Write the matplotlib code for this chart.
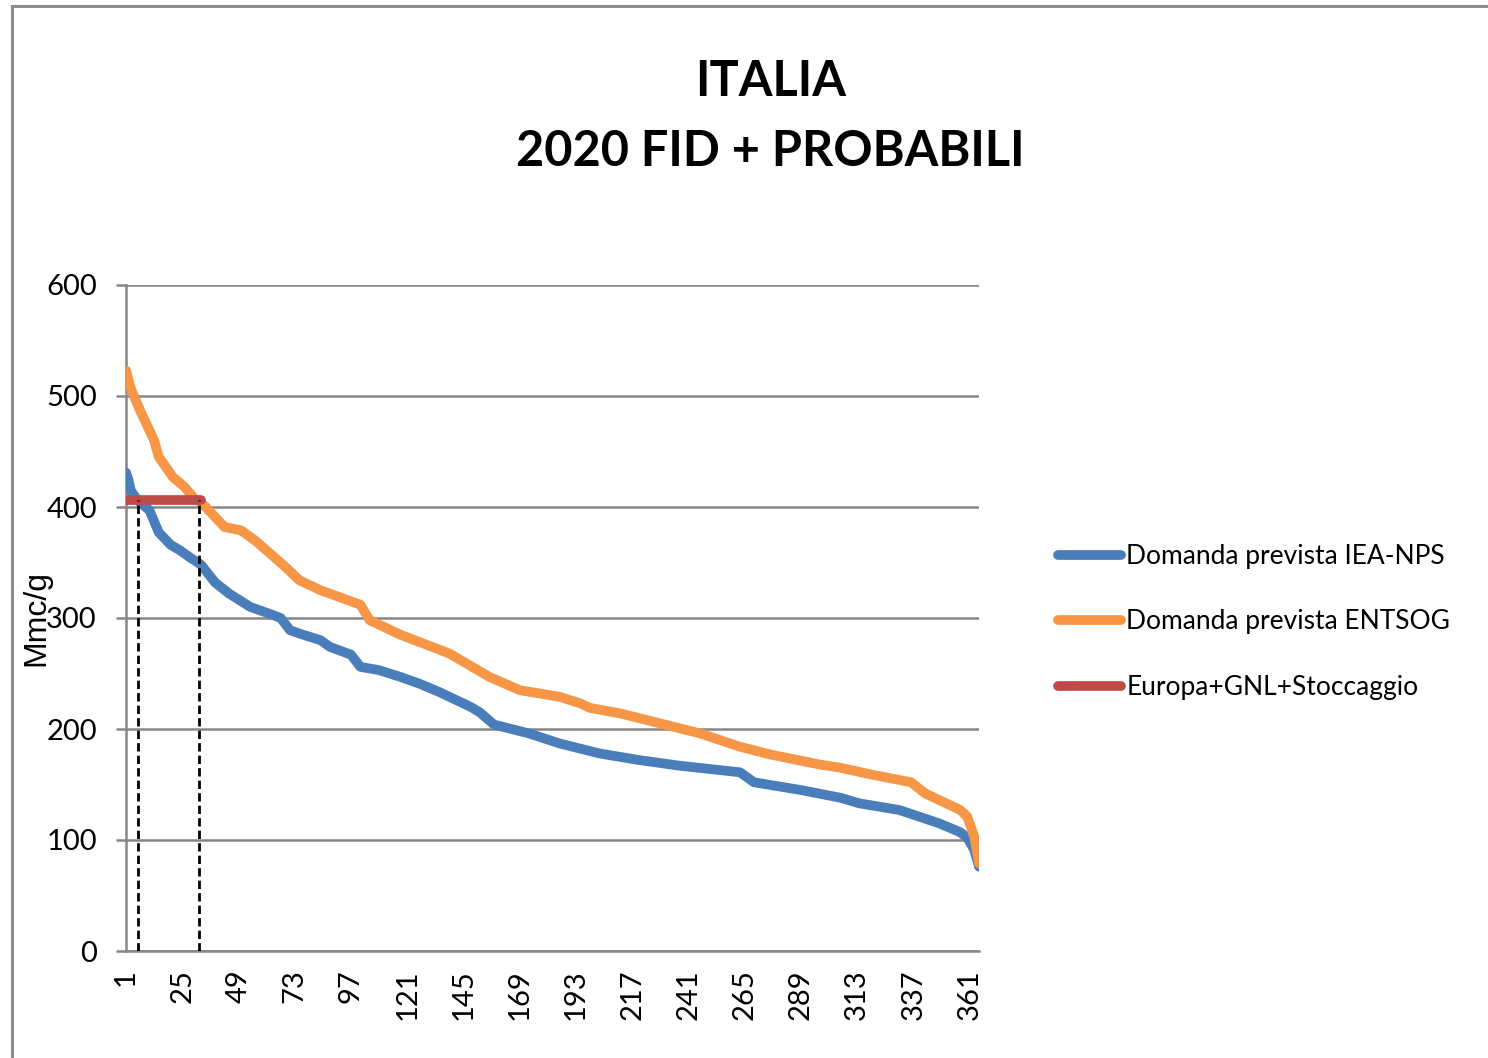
import matplotlib.pyplot as plt
from matplotlib.patches import Rectangle

# giorni (curva di durata) e valori [Mmc/g]
iea_days = [1, 2, 3, 6, 11, 13, 15, 20, 24, 28, 33, 36, 39, 45, 54, 62, 67, 71, 75,
            84, 88, 97, 101, 109, 118, 126, 135, 139, 148, 152, 158, 173, 186, 203,
            220, 237, 263, 269, 289, 306, 314, 331, 348, 357, 360, 363, 365]
iea_vals = [431, 425, 415, 406, 397, 387, 377, 366, 361, 355, 348, 340, 332, 322, 310,
            304, 300, 289, 286, 280, 274, 267, 256, 253, 247, 241, 233, 229, 220, 215,
            204, 196, 187, 178, 172, 167, 161, 152, 145, 138, 133, 127, 115, 107, 102,
            91, 76]

entsog_days = [1, 3, 7, 11, 13, 15, 18, 21, 26, 30, 33, 35, 39, 43, 50, 56, 62, 69, 75,
               84, 101, 105, 118, 139, 156, 169, 186, 195, 199, 212, 229, 246, 263,
               276, 297, 306, 319, 336, 342, 351, 357, 360, 363, 365]
entsog_vals = [523, 507, 487, 469, 460, 445, 436, 427, 418, 408, 404, 400, 391, 382,
               379, 370, 359, 346, 334, 325, 312, 298, 285, 268, 247, 235, 229, 223,
               219, 214, 205, 196, 184, 177, 168, 165, 159, 152, 142, 133, 127, 121,
               103, 79]

offerta_days = [1, 33]
offerta_vals = [406, 406]

# incroci domanda/offerta (linee tratteggiate)
cross_days = [6, 32]
cross_level = 406

xticks = list(range(1, 366, 24))
yticks = [0, 100, 200, 300, 400, 500, 600]

BLUE = "#4a7ebb"
ORANGE = "#f79646"
RED = "#be4b48"
GRID = "#868686"

plt.rcParams["font.family"] = ["Lato", "DejaVu Sans"]

fig = plt.figure(figsize=(14.88, 10.58), dpi=100)
fig.add_artist(Rectangle((12 / 1488, -0.05), 1.1, 1 - 6 / 1058 + 0.05,
                         transform=fig.transFigure, fill=False,
                         edgecolor="#8c8c8c", linewidth=2.2))

ax = fig.add_axes([126 / 1488, 107 / 1058, 853 / 1488, 666 / 1058])

ax.plot(iea_days, iea_vals, color=BLUE, lw=7, solid_capstyle="round",
        solid_joinstyle="round", label="Domanda prevista IEA-NPS", zorder=3)
ax.plot(entsog_days, entsog_vals, color=ORANGE, lw=7, solid_capstyle="round",
        solid_joinstyle="round", label="Domanda prevista ENTSOG", zorder=3)
ax.plot(offerta_days, offerta_vals, color=RED, lw=7, solid_capstyle="round",
        label="Europa+GNL+Stoccaggio", zorder=4)
ax.vlines(cross_days, 0, cross_level, colors="black", linestyles=(0, (3, 1.5)),
          lw=2, zorder=5)

ax.set_xlim(1, 365)
ax.set_ylim(0, 600)
ax.set_xticks(xticks)
ax.set_xticklabels([str(t) for t in xticks], rotation=90, fontsize=21)
ax.set_yticks(yticks)
ax.tick_params(axis="y", labelsize=21, length=7, width=1.8, color=GRID, pad=14)
ax.tick_params(axis="x", length=0, pad=13)
ax.yaxis.grid(True, color=GRID, lw=1.8)
ax.set_axisbelow(True)
for s in ["top", "right"]:
    ax.spines[s].set_visible(False)
for s in ["left", "bottom"]:
    ax.spines[s].set_color(GRID)
    ax.spines[s].set_linewidth(1.8)

ax.set_ylabel("Mmc/g", fontsize=23, family=["Liberation Sans", "DejaVu Sans"],
              va="center")
ax.yaxis.set_label_coords(-0.105, 0.50)

ax.legend(loc="center left", bbox_to_anchor=(1.08, 0.494), frameon=False,
          fontsize=19, handlelength=2.4, handletextpad=0.2, labelspacing=1.54,
          borderaxespad=0)

fig.text(0.518, 1 - 82 / 1058, "ITALIA", ha="center", va="center",
         fontsize=35, fontweight="bold")
fig.text(0.518, 1 - 152 / 1058, "2020 FID + PROBABILI", ha="center", va="center",
         fontsize=35, fontweight="bold")

fig.savefig("out.png", dpi=100)
